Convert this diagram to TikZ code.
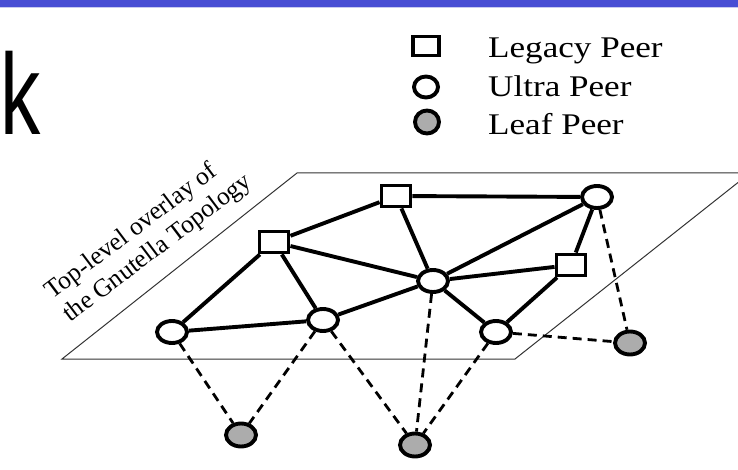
\documentclass[tikz,border=0pt]{standalone}
\usepackage{fontspec}
\setmainfont{Liberation Serif}
\newfontfamily\ksans{Liberation Sans}
\usetikzlibrary{shapes.geometric}
\definecolor{bandblue}{RGB}{72,78,212}
\definecolor{bandlight}{RGB}{200,202,240}
\definecolor{leafgray}{RGB}{172,172,172}
\tikzset{
  legacy/.style={rectangle,draw=black,fill=white,line width=3.9pt,minimum width=29pt,minimum height=21pt,inner sep=0pt},
  ultra/.style={ellipse,draw=black,fill=white,line width=3.9pt,minimum width=30pt,minimum height=22pt,inner sep=0pt},
  leaf/.style={ellipse,draw=black,fill=leafgray,line width=3.9pt,minimum width=30pt,minimum height=23pt,inner sep=0pt},
  link/.style={line width=3.9pt,black},
  weak/.style={line width=2.8pt,black,dash pattern=on 9pt off 6pt},
  plane/.style={line width=1pt,black!80},
  legtext/.style={anchor=base west,inner sep=0pt,font=\fontsize{30}{30}\selectfont},
  overlaytext/.style={anchor=base west,inner sep=0pt,rotate=37,align=left,font=\fontsize{25.5}{29}\selectfont}
}
\begin{document}
\begin{tikzpicture}[x=1pt,y=-1pt]
\useasboundingbox (0,0) rectangle (738,470);
% top band
\fill[bandblue] (0,0) rectangle (738,7.5);
\draw[bandlight,line width=1pt] (0,8) -- (738,8);
% big partial title letter
\node[anchor=base west,inner sep=0pt] (kletter) at (0,135) {\scalebox{0.7}[1]{\ksans\fontsize{115}{115}\selectfont k}};
% legend
\node[legacy,minimum width=26pt,minimum height=19pt] (lgsq) at (426,46) {};
\node[ultra,minimum width=24pt,minimum height=21pt] (lgul) at (426,87) {};
\node[leaf,minimum width=24pt,minimum height=23pt] (lglf) at (427,122) {};
\node[legtext] (lgt1) at (488,58) {\scalebox{1.17}[1]{Legacy Peer}};
\node[legtext] (lgt2) at (488,97) {\scalebox{1.17}[1]{Ultra Peer}};
\node[legtext] (lgt3) at (488,135) {\scalebox{1.17}[1]{Leaf Peer}};
% plane
\coordinate (pa) at (738,182.5);
\coordinate (pb) at (515,359);
\coordinate (pc) at (62,359);
\coordinate (pd) at (297,173);
\coordinate (pe) at (738,173);
\draw[plane] (pa) -- (pb) -- (pc) -- (pd) -- (pe);
% overlay label
\node[overlaytext] (ov) at (70,323) {Top-level overlay of\\the Gnutella Topology};
% nodes
\node[ultra] (U1) at (172,332) {};
\node[legacy] (L1) at (274,242) {};
\node[legacy] (L2) at (396,196) {};
\node[ultra] (Uc) at (433,281) {};
\node[ultra] (U2) at (323,320) {};
\node[ultra] (U3) at (496,332) {};
\node[ultra] (U4) at (597,197) {};
\node[legacy] (L3) at (571,265) {};
\node[leaf] (F1) at (241,435) {};
\node[leaf] (F2) at (415,445) {};
\node[leaf] (F3) at (630,343) {};
% solid links
\draw[link] (L2) -- (U4);
\draw[link] (L2) -- (L1);
\draw[link] (L2) -- (Uc);
\draw[link] (L1) -- (U1);
\draw[link] (L1) -- (Uc);
\draw[link] (L1) -- (U2);
\draw[link] (U1) -- (U2);
\draw[link] (U2) -- (Uc);
\draw[link] (Uc) -- (U4);
\draw[link] (Uc) -- (L3);
\draw[link] (Uc) -- (U3);
\draw[link] (L3) -- (U4);
\draw[link] (L3) -- (U3);
% dashed links
\draw[weak] (U1) -- (F1);
\draw[weak] (U2) -- (F1);
\draw[weak] (U2) -- (F2);
\draw[weak] (Uc) -- (F2);
\draw[weak] (U3) -- (F2);
\draw[weak] (U3) -- (F3);
\draw[weak] (U4) -- (F3);
\end{tikzpicture}
\end{document}
